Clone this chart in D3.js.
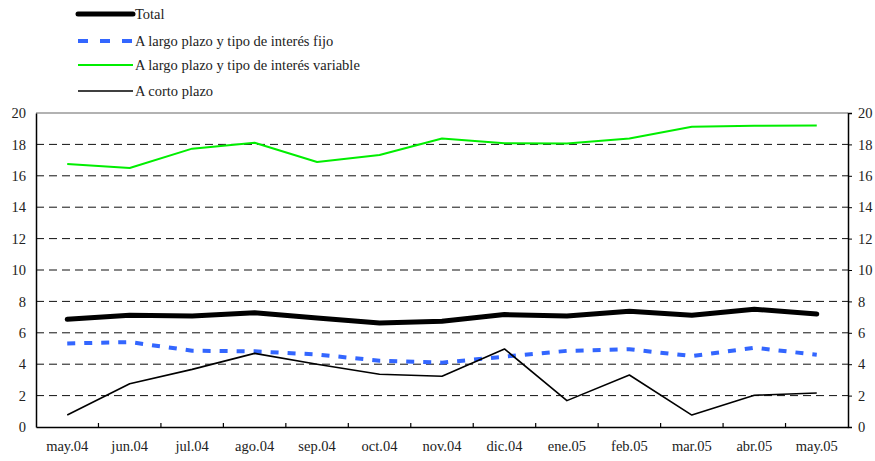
<!DOCTYPE html>
<html lang="es">
<head>
<meta charset="UTF-8">
<title>Tipos de interés</title>
<script src="https://d3js.org/d3.v7.min.js"></script>
<style>
    body { margin: 0; background: #fff; }
</style>
</head>
<body>
<div id="chart"></div>
<script>
    // months
    const categories = ["may.04", "jun.04", "jul.04", "ago.04", "sep.04", "oct.04", "nov.04",
        "dic.04", "ene.05", "feb.05", "mar.05", "abr.05", "may.05"];

    // series
    const total    = [6.86, 7.12, 7.07, 7.27, 6.95, 6.63, 6.74, 7.16, 7.07, 7.38, 7.12, 7.5, 7.2];
    const fijo     = [5.32, 5.41, 4.86, 4.82, 4.62, 4.22, 4.1, 4.48, 4.85, 4.95, 4.52, 5.05, 4.6];
    const variable = [16.75, 16.5, 17.73, 18.1, 16.88, 17.32, 18.37, 18.07, 18.05, 18.38, 19.13, 19.19, 19.21];
    const corto    = [0.76, 2.76, 3.67, 4.69, 4.0, 3.36, 3.23, 4.97, 1.68, 3.31, 0.76, 2.02, 2.17];

    const yTicks = [0, 2, 4, 6, 8, 10, 12, 14, 16, 18, 20];

    const series = [
        { name: "Total", values: total, color: "#000", width: 5, dash: null },
        { name: "A largo plazo y tipo de interés fijo", values: fijo, color: "#3366ff", width: 4, dash: "8,9" },
        { name: "A largo plazo y tipo de interés variable", values: variable, color: "#00ee00", width: 2, dash: null },
        { name: "A corto plazo", values: corto, color: "#000", width: 1.6, dash: null }
    ];

    const FONT = "Liberation Serif";
    const FONT_SIZE = 14.5;

    const W = 875, H = 461;
    const margin = { top: 113, right: 27, bottom: 34, left: 36 };
    const width = W - margin.left - margin.right;
    const height = H - margin.top - margin.bottom;

    const svg = d3.select("#chart").append("svg")
        .attr("width", W).attr("height", H);

    const g = svg.append("g").attr("transform", `translate(${margin.left},${margin.top})`);

    const x = d3.scaleBand().domain(categories).range([0, width]);
    const y = d3.scaleLinear().domain([0, 20]).range([height, 0]);

    // dashed gridlines
    g.selectAll(".grid")
        .data(yTicks.filter(d => d > 0 && d < 20))
        .enter().append("line")
        .attr("x1", 0).attr("x2", width)
        .attr("y1", d => y(d)).attr("y2", d => y(d))
        .attr("stroke", "#111").attr("stroke-width", 1)
        .attr("stroke-dasharray", "8,5");

    // top border
    g.append("line")
        .attr("x1", 0).attr("x2", width).attr("y1", 0).attr("y2", 0)
        .attr("stroke", "#999").attr("stroke-width", 1.5);

    // left axis
    const yLeft = g.append("g").call(d3.axisLeft(y).tickValues(yTicks).tickSize(0).tickPadding(10));
    yLeft.select(".domain").attr("stroke", "#000").attr("stroke-width", 1.5);

    // right axis
    const yRight = g.append("g").attr("transform", `translate(${width},0)`)
        .call(d3.axisRight(y).tickValues(yTicks).tickSize(4).tickPadding(6));
    yRight.select(".domain").attr("stroke", "#000").attr("stroke-width", 1.5);
    yRight.selectAll(".tick line").attr("stroke", "#000");

    // bottom axis, ticks between categories pointing up
    const xAxis = g.append("g").attr("transform", `translate(0,${height})`)
        .call(d3.axisBottom(x).tickSize(0).tickPadding(14));
    xAxis.select(".domain").attr("stroke", "#000").attr("stroke-width", 1.5);
    xAxis.selectAll(".sep")
        .data(categories.slice(1))
        .enter().append("line")
        .attr("class", "sep")
        .attr("x1", d => x(d)).attr("x2", d => x(d))
        .attr("y1", 0).attr("y2", -4)
        .attr("stroke", "#000").attr("stroke-width", 1.2);

    [yLeft, yRight, xAxis].forEach(a => a.attr("font-family", FONT).attr("font-size", FONT_SIZE));
    svg.selectAll(".tick text").attr("fill", "#222");

    // lines
    const line = d3.line()
        .x((d, i) => x(categories[i]) + x.bandwidth() / 2)
        .y(d => y(d));

    [series[2], series[1], series[3], series[0]].forEach(s => {
        g.append("path")
            .datum(s.values)
            .attr("fill", "none")
            .attr("stroke", s.color)
            .attr("stroke-width", s.width)
            .attr("stroke-linejoin", "round")
            .attr("stroke-linecap", s.name === "Total" ? "round" : "butt")
            .attr("stroke-dasharray", s.dash)
            .attr("d", line);
    });

    // legend
    const legendY = [14, 41, 65, 91];
    const legend = svg.append("g").attr("font-family", FONT).attr("font-size", FONT_SIZE);
    series.forEach((s, i) => {
        legend.append("line")
            .attr("x1", 78).attr("x2", 133)
            .attr("y1", legendY[i]).attr("y2", legendY[i])
            .attr("stroke", s.color)
            .attr("stroke-width", s.width)
            .attr("stroke-linecap", s.name === "Total" ? "round" : "butt")
            .attr("stroke-dasharray", s.dash ? "10,12" : null);
        legend.append("text")
            .attr("x", 135).attr("y", legendY[i])
            .attr("dy", "0.35em")
            .attr("fill", "#222")
            .text(s.name);
    });
</script>
</body>
</html>
